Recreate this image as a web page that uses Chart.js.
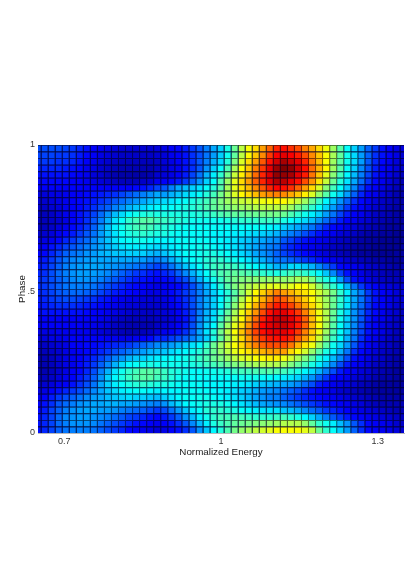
<!DOCTYPE html>
<html>
<head>
<meta charset="utf-8">
<title>Phase vs Normalized Energy</title>
<script src="https://cdn.jsdelivr.net/npm/chart.js@4"></script>
<style>
  html, body { margin: 0; padding: 0; background: #fff; }
  #wrap { width: 407px; height: 576px; }
</style>
</head>
<body>
<div id="wrap"><canvas id="chart" width="407" height="576"></canvas></div>
<script>
// Bin centres along x (edge bins get clipped to half width by the plot area)
const energies = [0.65, 0.6635, 0.6769, 0.6904, 0.7038, 0.7173, 0.7308, 0.7442, 0.7577, 0.7712, 0.7846, 0.7981, 0.8115, 0.825, 0.8385, 0.8519, 0.8654, 0.8788, 0.8923, 0.9058, 0.9192, 0.9327, 0.9462, 0.9596, 0.9731, 0.9865, 1, 1.0135, 1.0269, 1.0404, 1.0538, 1.0673, 1.0808, 1.0942, 1.1077, 1.1212, 1.1346, 1.1481, 1.1615, 1.175, 1.1885, 1.2019, 1.2154, 1.2288, 1.2423, 1.2558, 1.2692, 1.2827, 1.2962, 1.3096, 1.3231, 1.3365, 1.35];

// Bin edges along y, top to bottom
const phaseEdges = [1, 0.9773, 0.9545, 0.9318, 0.9091, 0.8864, 0.8636, 0.8409, 0.8182, 0.7955, 0.7727, 0.75, 0.7273, 0.7045, 0.6818, 0.6591, 0.6364, 0.6136, 0.5909, 0.5682, 0.5455, 0.5227, 0.5, 0.4773, 0.4545, 0.4318, 0.4091, 0.3864, 0.3636, 0.3409, 0.3182, 0.2955, 0.2727, 0.25, 0.2273, 0.2045, 0.1818, 0.1591, 0.1364, 0.1136, 0.0909, 0.0682, 0.0455, 0.0227, 0];

const xTicks = [0.7, 1, 1.3];
const xTickLabels = ['0.7', '1', '1.3'];
const yTicks = [0, 0.493, 1];
const yTickLabels = ['0', '.5', '1'];

// Cell values on a 0-100 colour scale, top row first
const heat = [
  [20,20,20,20,19,18,16,14,12,11,10,9,8,8,8,8,8,9, 10,12,13,15,18,21,25,29,33,40,48,56,62,66,72,78,84, 86,83,80,75,71,66,61,53,46,38,33,28,22,18,14,12,10,9],
  [19,19,19,18,18,17,15,13,12,10,9,8,7,7,7,7,7,8, 9,11,12,14,17,20,24,28,33,39,47,56,63,68,74,82,88, 90,88,85,80,74,68,62,54,47,39,34,28,22,17,14,12,10,8],
  [18,18,18,17,17,16,14,12,11,9,8,7,6,6,6,6,6,7, 9,10,12,14,17,21,25,30,34,41,50,59,66,72,79,86,92, 96,93,90,84,76,69,62,53,46,39,34,28,21,16,13,11,9,8],
  [16,16,16,16,15,14,13,11,10,8,7,6,5,5,5,5,5,7, 8,10,11,14,17,21,27,33,38,45,54,62,68,75,82,90,97, 100,98,92,86,77,70,63,53,46,38,33,26,20,15,12,11,9,7],
  [14,14,14,14,14,13,12,11,9,8,6,5,4,4,4,4,5,8, 9,10,12,15,19,24,30,36,42,49,57,64,70,77,84,91,98, 98,96,90,85,76,68,60,51,44,37,31,25,19,14,12,10,8,6],
  [13,13,13,13,13,12,12,11,10,9,8,7,6,6,6,7,8,11, 12,13,15,18,22,27,33,38,45,53,60,66,72,78,84,90,95, 94,90,86,80,73,65,57,48,41,35,29,23,17,13,11,9,7,5],
  [12,12,12,12,12,12,12,12,12,12,12,12,12,12,13,14,16,19, 21,25,29,31,33,35,38,41,46,54,60,65,69,74,79,84,87, 86,83,78,72,66,59,51,44,38,32,26,19,14,12,10,8,6,5],
  [9,9,10,10,11,12,12,13,14,15,16,17,19,21,23,25,27,29, 28,30,32,34,36,38,41,44,49,54,59,63,66,69,72,74,75, 74,71,68,64,59,52,46,39,34,28,22,16,12,11,9,7,5,4],
  [8,8,9,10,11,12,13,14,15,17,19,21,23,25,27,29,31,33, 34,35,37,38,40,42,44,47,50,53,55,57,58,60,61,62,63, 63,60,57,53,48,43,37,32,27,22,17,13,11,9,7,6,5,4],
  [7,7,8,9,11,12,13,15,17,20,22,25,27,30,32,34,36,37, 38,38,39,40,41,43,45,47,49,50,52,53,54,55,56,56,56, 55,53,49,46,42,38,33,28,23,18,14,12,10,8,7,5,4,4],
  [6,6,7,9,11,12,14,16,19,23,27,31,34,37,39,40,41,40, 40,40,40,40,40,41,42,43,45,46,47,47,48,48,49,49,49, 48,45,42,39,36,33,28,24,19,15,12,11,9,7,6,5,4,3],
  [6,6,7,8,10,12,14,17,21,25,30,35,38,42,44,46,46,44, 43,42,41,40,39,39,39,39,39,40,41,42,42,42,43,43,43, 40,38,36,34,31,27,23,19,15,12,11,9,8,6,5,4,4,3],
  [6,6,7,9,11,13,15,18,22,27,32,36,39,42,44,45,44,42, 41,40,39,38,38,38,38,38,38,38,38,38,38,38,38,37,36, 33,31,29,27,24,20,16,13,12,10,9,7,6,5,4,3,3,3],
  [7,8,9,11,13,15,18,21,24,28,32,35,38,40,41,42,41,40, 40,39,38,38,38,38,38,37,37,37,36,36,35,34,33,32,30, 27,25,23,20,17,14,12,11,9,8,7,5,4,4,3,3,2,2],
  [9,10,11,13,16,18,21,23,26,29,32,35,37,38,39,39,38,37, 37,37,38,38,38,38,38,37,37,36,35,33,32,30,29,27,26, 21,19,16,14,12,11,10,8,7,6,5,4,3,3,2,2,2,2],
  [11,12,14,16,19,21,23,25,27,29,31,33,35,36,36,36,35,34, 35,36,37,38,38,39,39,38,37,36,35,33,31,29,27,25,24, 18,16,14,12,11,10,8,7,6,5,4,3,3,2,2,2,2,3],
  [12,13,16,19,22,24,25,27,28,30,31,32,32,33,33,33,31,30, 32,34,36,38,38,39,40,40,39,38,36,34,32,29,27,25,22, 19,17,15,13,12,10,9,7,6,5,4,3,3,2,2,2,3,3],
  [14,15,18,21,24,26,27,28,29,29,29,29,29,29,28,28,26,25, 27,30,33,36,38,39,41,42,42,40,39,37,35,32,30,27,24, 24,22,20,18,16,14,12,11,10,8,7,6,5,4,4,3,3,3],
  [15,16,19,22,25,27,28,29,29,29,28,27,26,25,24,23,21,19, 21,24,28,32,35,38,41,43,44,44,43,41,39,37,35,33,30, 30,34,34,32,30,26,22,18,13,12,11,10,8,7,6,5,4,4],
  [16,17,20,23,25,27,28,28,28,27,26,24,22,20,18,17,15,14, 16,18,22,26,30,34,38,42,45,46,47,46,45,44,42,41,40, 42,44,44,42,40,37,32,26,19,14,12,10,8,7,6,5,5,5],
  [17,18,20,22,24,26,27,27,26,25,23,21,19,17,15,14,13,12, 13,14,17,20,25,30,35,39,43,47,49,50,51,51,52,52,52, 52,52,54,54,50,44,40,36,28,20,14,12,10,8,7,6,6,6],
  [17,18,20,22,24,25,25,25,24,22,20,18,16,14,13,12,11,10, 11,12,13,16,20,25,30,36,41,46,50,53,55,57,58,60,60, 58,60,62,62,58,52,46,42,37,30,24,18,14,12,10,9,8,7],
  [16,17,19,21,22,23,23,22,21,19,17,15,14,13,12,11,10,10, 11,13,15,18,21,25,29,33,37,41,46,52,58,63,67,71,75, 72,70,67,65,62,58,54,49,42,36,29,25,18,14,12,11,9,8],
  [15,16,18,19,20,20,19,18,17,15,14,12,11,10,10,9,9,9, 10,12,14,17,20,25,29,33,37,42,48,55,61,65,70,75,80, 78,74,71,67,63,58,53,48,42,35,29,24,18,14,12,10,9,8],
  [14,15,16,17,17,17,16,15,14,13,12,11,10,9,9,8,8,8, 9,11,13,16,20,25,29,33,38,44,51,58,64,70,75,81,85, 84,81,76,71,66,60,54,48,41,35,28,23,17,13,12,10,8,7],
  [13,14,14,14,14,14,14,13,12,12,11,10,9,8,7,7,7,8, 9,10,12,15,19,25,30,34,40,47,54,61,67,73,80,86,90, 90,86,82,75,68,61,55,48,40,34,27,22,16,13,11,9,8,6],
  [12,12,12,12,12,12,12,12,12,11,10,8,7,6,6,6,6,7, 8,9,11,14,19,26,31,35,43,50,57,63,70,77,84,89,93, 93,90,85,78,69,62,55,47,39,33,27,21,15,12,11,9,7,6],
  [12,12,12,12,12,12,12,11,11,10,9,7,6,5,5,5,5,7, 9,10,12,15,20,27,33,37,46,53,60,66,73,80,87,90,92, 93,90,85,78,69,62,54,46,38,32,26,20,14,12,10,8,7,6],
  [10,10,10,11,11,11,11,11,10,9,8,7,6,5,5,6,7,9, 11,12,14,17,22,29,35,41,49,56,62,68,75,81,86,89,90, 90,87,82,75,68,61,53,45,38,32,25,19,14,12,10,8,6,5],
  [9,9,10,10,11,12,12,12,12,12,11,11,10,10,11,12,13,16, 16,18,20,22,25,29,33,40,47,54,60,66,72,78,82,85,86, 86,84,78,72,66,58,50,43,37,30,24,17,13,11,9,7,6,5],
  [7,7,8,9,10,12,12,13,13,14,15,16,17,18,20,22,24,26, 27,28,30,33,35,37,42,48,53,58,62,66,71,75,78,80,80, 80,76,70,65,61,53,46,39,34,28,21,15,12,10,8,7,5,4],
  [6,6,7,8,10,11,12,13,14,16,18,20,22,24,26,28,30,31, 32,34,36,37,39,41,44,48,52,56,60,63,65,68,70,72,72, 72,66,62,58,52,46,40,36,30,24,17,13,11,9,7,6,5,4],
  [5,5,6,8,10,11,12,14,16,19,22,25,27,30,32,33,35,36, 37,38,38,39,41,43,45,48,50,53,56,59,60,62,63,64,64, 61,58,54,50,46,40,36,31,26,20,14,12,10,8,7,5,4,4],
  [5,5,6,8,10,11,13,15,18,22,26,30,34,37,38,39,40,39, 39,39,39,39,40,41,43,44,46,48,50,51,53,54,55,55,55, 53,50,47,44,40,36,31,26,20,15,12,11,9,7,6,5,4,3],
  [5,5,6,8,10,12,13,16,20,25,30,35,39,42,44,46,46,45, 43,41,40,39,38,38,39,39,40,41,43,44,44,45,45,46,45, 44,42,40,37,34,30,25,20,15,12,11,9,8,6,5,4,3,3],
  [6,6,7,9,11,12,15,18,22,27,33,37,40,43,45,46,46,44, 43,41,39,38,38,38,38,38,38,38,38,39,39,39,38,38,37, 36,35,33,30,27,22,18,13,12,11,9,8,7,5,4,4,3,3],
  [7,8,9,11,12,14,17,20,24,29,33,36,38,40,41,42,41,40, 40,39,38,38,38,38,37,37,37,37,36,36,35,33,32,31,30, 29,28,26,23,20,15,13,11,10,9,8,6,5,4,3,3,3,3],
  [9,10,12,14,16,18,20,23,26,29,32,34,36,37,38,38,37,36, 37,37,37,38,38,38,38,37,37,36,35,33,32,30,28,27,26, 24,22,20,17,14,12,11,10,8,7,6,5,4,3,3,3,3,3],
  [11,12,15,18,20,22,24,26,28,29,31,32,33,34,33,33,32,31, 33,35,37,38,38,39,39,38,37,36,35,33,31,29,27,25,25, 22,20,18,16,14,13,12,11,10,9,8,7,6,5,4,4,4,4],
  [12,14,17,21,23,25,27,28,29,29,30,30,29,29,28,27,26,25, 27,31,34,37,38,39,40,40,40,39,37,35,33,31,29,28,27, 26,24,22,20,18,16,14,13,12,11,10,9,7,6,5,5,5,5],
  [13,15,19,22,25,27,28,29,29,28,28,27,25,24,23,22,20,18, 20,24,28,32,36,38,41,42,42,41,40,38,37,36,35,35,35, 32,31,29,26,23,21,18,16,14,12,11,10,9,8,7,6,5,5],
  [14,16,19,23,26,27,28,28,27,26,25,23,21,19,18,16,14,13, 15,18,22,27,31,36,39,42,44,44,45,44,43,42,42,42,43, 44,42,40,37,33,29,25,21,18,15,13,12,11,10,9,8,7,6],
  [14,16,19,23,25,27,27,27,26,24,22,20,18,16,14,13,12,11, 12,14,17,21,26,31,36,40,43,45,47,48,49,50,51,52,53, 55,55,55,52,47,42,39,36,31,27,21,17,13,12,11,10,8,7],
  [14,16,19,22,24,25,25,25,24,22,20,18,16,13,12,11,10,9, 10,12,14,17,21,27,32,37,41,45,49,52,54,56,58,60,62, 62,62,62,60,56,48,42,38,33,28,22,17,13,12,11,10,9,8]
];

// Jet colormap, v in 0-100, scaled by k to darken the cell outlines
function jet(v, k) {
  const t = v / 100;
  const ramp = c => Math.max(0, Math.min(1, c));
  const r = ramp(Math.min(4 * t - 1.5, 4.5 - 4 * t));
  const g = ramp(Math.min(4 * t - 0.5, 3.5 - 4 * t));
  const b = ramp(Math.min(4 * t + 0.5, 2.5 - 4 * t));
  return `rgb(${Math.round(r * 255 * k)},${Math.round(g * 255 * k)},${Math.round(b * 255 * k)})`;
}

// One dataset per row of floating bars, all drawn on top of each other
const datasets = heat.map((row, r) => ({
  data: row.map((v, c) => ({ x: energies[c], y: [phaseEdges[r + 1], phaseEdges[r]] })),
  backgroundColor: row.map(v => jet(v, 1)),
  borderColor: row.map(v => jet(v, 0.5)),
  borderWidth: { top: 1, right: 1, bottom: 0, left: 0 },
  borderSkipped: false,
  grouped: false,
  categoryPercentage: 1.01,
  barPercentage: 1
}));

// Dark backing so the seams between cells don't show the white page
const plotBacking = {
  id: 'plotBacking',
  beforeDatasetsDraw(chart) {
    const { ctx, chartArea: a } = chart;
    ctx.save();
    ctx.fillStyle = '#00003a';
    ctx.fillRect(a.left, a.top, a.right - a.left, a.bottom - a.top);
    ctx.restore();
  }
};

const tickFont = { family: '"Liberation Sans", Arial, sans-serif', size: 9 };
const titleFont = { family: '"Liberation Sans", Arial, sans-serif', size: 9.8 };

new Chart(document.getElementById('chart'), {
  type: 'bar',
  data: { datasets },
  plugins: [plotBacking],
  options: {
    responsive: false,
    animation: false,
    layout: { padding: { top: 145, right: 3, bottom: 113, left: 0 } },
    plugins: { legend: { display: false }, tooltip: { enabled: false } },
    scales: {
      x: {
        type: 'linear',
        offset: false,
        min: 0.65,
        max: 1.35,
        grid: { display: false, drawTicks: false },
        border: { display: true, color: '#b8b8b8', width: 1 },
        afterBuildTicks: s => { s.ticks = xTicks.map(v => ({ value: v })); },
        afterFit: s => { s.height = 30; },
        ticks: {
          padding: 3,
          maxRotation: 0,
          autoSkip: false,
          color: '#333',
          font: tickFont,
          callback: v => xTickLabels[xTicks.indexOf(v)]
        },
        title: { display: true, text: 'Normalized Energy', color: '#222', font: titleFont, padding: { top: 0, bottom: 5 } }
      },
      y: {
        type: 'linear',
        min: 0,
        max: 1,
        grid: { display: false, drawTicks: false },
        border: { display: false },
        afterBuildTicks: s => { s.ticks = yTicks.map(v => ({ value: v })); },
        afterFit: s => { s.width = 38; },
        ticks: {
          padding: 3,
          autoSkip: false,
          color: '#333',
          font: tickFont,
          callback: v => yTickLabels[yTicks.indexOf(v)]
        },
        title: { display: true, text: 'Phase', color: '#222', font: titleFont, padding: { top: 16, bottom: 0 } }
      }
    }
  }
});
</script>
</body>
</html>
